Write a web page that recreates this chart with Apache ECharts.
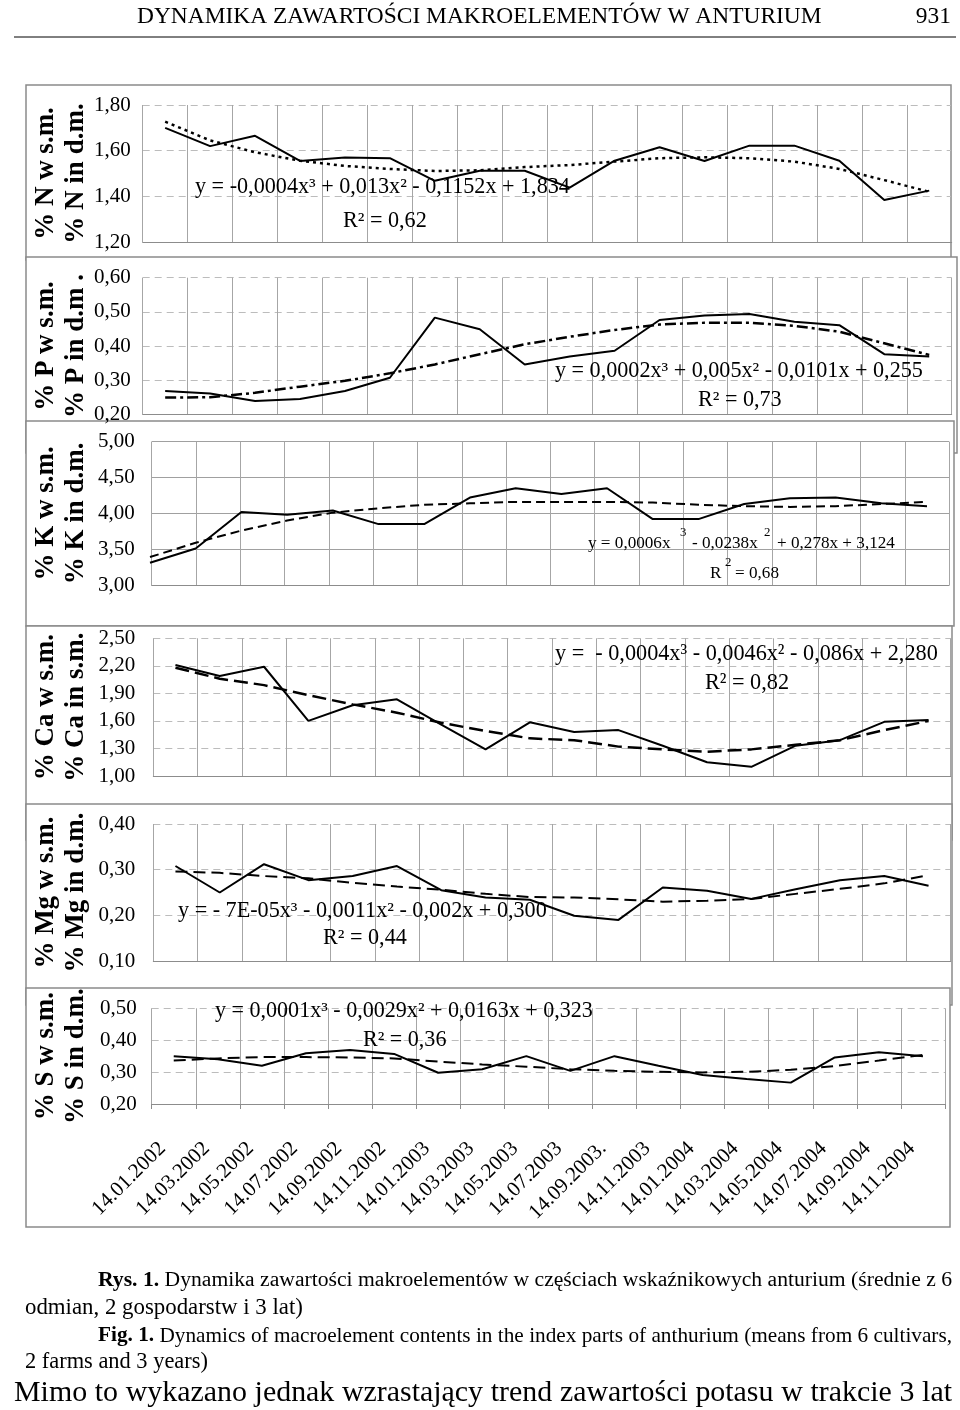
<!DOCTYPE html>
<html><head><meta charset="utf-8">
<script src="https://cdn.jsdelivr.net/npm/echarts@6/dist/echarts.min.js"></script>
<style>html,body{margin:0;padding:0;background:#fff}#c{width:960px;height:1410px}</style>
</head><body><div id="c"></div>
<script>
const categories = ['14.01.2002','14.03.2002','14.05.2002','14.07.2002','14.09.2002','14.11.2002',
  '14.01.2003','14.03.2003','14.05.2003','14.07.2003','14.09.2003.','14.11.2003',
  '14.01.2004','14.03.2004','14.05.2004','14.07.2004','14.09.2004','14.11.2004'];

const nValues = [1.70,1.62,1.665,1.555,1.57,1.567,1.468,1.512,1.512,1.438,1.556,1.615,1.555,1.622,1.622,1.556,1.384,1.425];
const nTrend  = [1.727,1.645,1.593,1.556,1.533,1.520,1.511,1.514,1.528,1.537,1.552,1.567,1.571,1.567,1.552,1.520,1.471,1.420];
const pValues = [0.268,0.261,0.239,0.245,0.268,0.307,0.483,0.449,0.346,0.369,0.386,0.476,0.489,0.494,0.471,0.461,0.376,0.369];
const pTrend  = [0.249,0.250,0.263,0.281,0.298,0.320,0.346,0.376,0.405,0.427,0.447,0.463,0.468,0.468,0.459,0.442,0.408,0.374];
const kValues = [3.31,3.51,4.02,3.98,4.04,3.85,3.85,4.22,4.35,4.27,4.35,3.92,3.92,4.13,4.21,4.22,4.14,4.10];
const kTrend  = [3.39,3.59,3.76,3.90,4.01,4.07,4.12,4.14,4.16,4.16,4.16,4.15,4.12,4.10,4.09,4.10,4.13,4.16];
const caValues = [2.21,2.09,2.19,1.60,1.77,1.835,1.56,1.29,1.585,1.48,1.50,1.33,1.15,1.10,1.33,1.39,1.59,1.61];
const caTrend  = [2.18,2.06,1.99,1.88,1.78,1.69,1.58,1.49,1.41,1.39,1.32,1.29,1.265,1.29,1.34,1.39,1.50,1.60];
const mgValues = [0.308,0.250,0.312,0.277,0.286,0.308,0.255,0.239,0.234,0.199,0.190,0.261,0.254,0.236,0.257,0.277,0.286,0.265];
const mgTrend  = [0.296,0.293,0.286,0.281,0.271,0.263,0.256,0.247,0.240,0.239,0.235,0.230,0.232,0.236,0.247,0.258,0.270,0.288];
const sValues = [0.350,0.340,0.320,0.359,0.369,0.357,0.298,0.309,0.350,0.304,0.350,0.320,0.291,0.278,0.267,0.346,0.362,0.350];
const sTrend  = [0.336,0.343,0.347,0.347,0.346,0.343,0.333,0.324,0.317,0.309,0.304,0.301,0.299,0.301,0.307,0.319,0.336,0.354];

// axis ranges: [min, max, interval]
const nAxis = [1.2, 1.8, 0.2];
const pAxis = [0.2, 0.6, 0.1];
const kAxis = [3.0, 5.0, 0.5];
const caAxis = [1.0, 2.5, 0.3];
const mgAxis = [0.1, 0.4, 0.1];
const sAxis = [0.2, 0.5, 0.1];

const titleText = 'DYNAMIKA ZAWARTOŚCI MAKROELEMENTÓW W ANTURIUM';
const pageNo = '931';
const caption1 = 'Rys. 1. Dynamika zawartości makroelementów w częściach wskaźnikowych anturium (średnie z 6';
const caption2 = 'odmian, 2 gospodarstw i 3 lat)';
const caption3 = 'Fig. 1. Dynamics of macroelement contents in the index parts of anthurium (means from 6 cultivars,';
const caption4 = '2 farms and 3 years)';
const bodyLine = 'Mimo to wykazano jednak wzrastający trend zawartości potasu w trakcie 3 lat';

const SERIF = '"Liberation Serif", "Times New Roman", serif';
const mctx = document.createElement('canvas').getContext('2d');
function tw(text, size, weight) { mctx.font = (weight || 'normal') + ' ' + size + 'px "Liberation Serif"'; return mctx.measureText(text).width; }
function fit(text, target, base, weight) { return base * target / tw(text, base, weight); }
function txt(text, x, y, size, opts) {
  opts = opts || {};
  return { type: 'text', x: x, y: y, z: 10, silent: true,
    style: { text: text, font: (opts.weight || 'normal') + ' ' + size + 'px ' + SERIF, fill: '#000',
      textAlign: opts.align || 'left', textVerticalAlign: 'middle', verticalAlign: 'middle' } };
}
function justify(line, x0, x1, y, size, boldCount) {
  const words = line.split(' ');
  const natural = words.reduce((s, w, i) => s + tw(w, size, i < boldCount ? 'bold' : 'normal'), 0) + tw(' ', size) * (words.length - 1);
  if (natural > x1 - x0) size = size * (x1 - x0) / natural;
  const widths = words.map((w, i) => tw(w, size, i < boldCount ? 'bold' : 'normal'));
  const total = widths.reduce((a, b) => a + b, 0);
  const gap = (x1 - x0 - total) / (words.length - 1);
  const out = []; let x = x0;
  words.forEach((w, i) => { out.push(txt(w, x, y, size, { weight: i < boldCount ? 'bold' : 'normal' })); x += widths[i] + gap; });
  return out;
}

const panels = [
  { name: '% N w s.m.\n% N in d.m.', vals: nValues, trend: nTrend, axis: nAxis, g: [142.7, 105, 809, 137], dashed: true, lm: 12, ng: 52, tt: [3, 4], tw: 2.5 },
  { name: '% P w s.m.\n% P in d.m .', vals: pValues, trend: pTrend, axis: pAxis, g: [142.7, 277.7, 809, 136.6], dashed: true, lm: 12, ng: 52, tt: [11, 4, 3, 4], tw: 2.5 },
  { name: '% K w s.m.\n% K in d.m.', vals: kValues, trend: kTrend, axis: kAxis, g: [151.7, 441.7, 797.4, 143.3], sg: [150, 441.7, 777, 143.3], dashed: false, lm: 17, ng: 61, tt: [9, 5], tw: 2 },
  { name: '% Ca w s.m.\n% Ca in s.m.', vals: caValues, trend: caTrend, axis: caAxis, g: [153.3, 638.3, 797.4, 137.7], dashed: true, lm: 18, ng: 62, tt: [14, 6], tw: 2.5 },
  { name: '% Mg w s.m.\n% Mg in d.m.', vals: mgValues, trend: mgTrend, axis: mgAxis, g: [153.3, 824, 797.4, 137], dashed: true, lm: 18, ng: 62, tt: [12, 6], tw: 2 },
  { name: '% S w s.m.\n% S in d.m.', vals: sValues, trend: sTrend, axis: sAxis, g: [151.7, 1008.3, 793.3, 95.7], dashed: true, lm: 15, ng: 61, tt: [12, 6], tw: 2, labels: true }
];

const grids = [], xAxes = [], yAxes = [], series = [];
panels.forEach(p => {
  const gi = grids.length;
  grids.push({ left: p.g[0], top: p.g[1], width: p.g[2], height: p.g[3], containLabel: false, outerBoundsMode: 'none' });
  xAxes.push({
    type: 'category', gridIndex: gi, data: categories, boundaryGap: true,
    axisLine: { show: true, lineStyle: { color: '#8c8c8c', width: 1 } },
    axisTick: { show: !!p.labels, length: 5, interval: 0, lineStyle: { color: '#8c8c8c' } },
    axisLabel: { show: !!p.labels, interval: 0, rotate: 45, margin: 30, padding: [0, 16, 0, 0], fontFamily: SERIF, fontSize: 21, color: '#000' },
    splitLine: { show: true, interval: 0, lineStyle: { color: '#a6a6a6', width: 1 } }
  });
  yAxes.push({
    type: 'value', gridIndex: gi, min: p.axis[0], max: p.axis[1], interval: p.axis[2],
    axisLine: { show: false }, axisTick: { show: false },
    axisLabel: { margin: p.lm, fontFamily: SERIF, fontSize: 21, color: '#000', formatter: v => v.toFixed(2).replace('.', ',') },
    splitLine: { show: true, lineStyle: p.dashed ? { color: '#bcbcbc', type: [7, 5], width: 1 } : { color: '#a0a0a0', width: 1 } },
    name: p.name, nameLocation: 'middle', nameRotate: 90, nameGap: p.ng, nameMoveOverlap: false,
    nameTextStyle: { fontFamily: SERIF, fontWeight: 'bold', fontSize: 27, lineHeight: 30, color: '#000' }
  });
  let sx = gi, sy = gi;
  if (p.sg) {
    const g2 = grids.length;
    grids.push({ left: p.sg[0], top: p.sg[1], width: p.sg[2], height: p.sg[3], containLabel: false, outerBoundsMode: 'none' });
    xAxes.push({ type: 'category', gridIndex: g2, data: categories, boundaryGap: false, show: false });
    yAxes.push({ type: 'value', gridIndex: g2, min: p.axis[0], max: p.axis[1], interval: p.axis[2], show: false, splitLine: { show: false } });
    sx = g2; sy = g2;
  }
  series.push({ type: 'line', xAxisIndex: sx, yAxisIndex: sy, data: p.trend, symbol: 'none', silent: true, z: 3,
    lineStyle: { color: '#000', width: p.tw, type: p.tt } });
  series.push({ type: 'line', xAxisIndex: sx, yAxisIndex: sy, data: p.vals, symbol: 'none', silent: true, z: 4,
    lineStyle: { color: '#000', width: 2 } });
});

const gfx = [];
// panel frames (drawn below the plots, later frames cover earlier ones)
const frames = [[26, 85, 925, 175], [26, 257, 931, 196], [26, 421, 928, 205], [26, 626, 926, 214], [26, 804, 926, 201], [26, 988, 924, 239]];
frames.forEach((f, i) => gfx.push({ type: 'rect', z: -10 + i, silent: true, shape: { x: f[0], y: f[1], width: f[2], height: f[3] },
  style: { fill: '#fff', stroke: '#8a8a8a', lineWidth: 1.5 } }));

// header
const tSize = fit(titleText, 685, 20);
gfx.push(txt(titleText, 137, 17, tSize));
gfx.push(txt(pageNo, 951, 17, tSize, { align: 'right' }));
gfx.push({ type: 'line', z: 10, silent: true, shape: { x1: 14, y1: 37, x2: 956, y2: 37 }, style: { stroke: '#000', lineWidth: 1 } });

// trend equations
const eqs = [
  { t: 'y = -0,0004x³ + 0,013x² - 0,1152x + 1,834', x0: 195, x1: 570, y: 187, r: 'R² = 0,62', rx: 343, ry: 221 },
  { t: 'y = 0,0002x³ + 0,005x² - 0,0101x + 0,255', x0: 555, x1: 923, y: 371, r: 'R² = 0,73', rx: 698, ry: 400 },
  { t: 'y =  - 0,0004x³ - 0,0046x² - 0,086x + 2,280', x0: 555, x1: 938, y: 654, r: 'R² = 0,82', rx: 705, ry: 683 },
  { t: 'y = - 7E-05x³ - 0,0011x² - 0,002x + 0,300', x0: 178, x1: 547, y: 911, r: 'R² = 0,44', rx: 323, ry: 938 },
  { t: 'y = 0,0001x³ - 0,0029x² + 0,0163x + 0,323', x0: 215, x1: 593, y: 1011, r: 'R² = 0,36', rx: 363, ry: 1040 }
];
eqs.forEach(e => {
  const s = fit(e.t, e.x1 - e.x0, 20);
  gfx.push(txt(e.t, e.x0, e.y, s));
  gfx.push(txt(e.r, e.rx, e.ry, s));
});
// K equation (floating exponents)
const ks = fit('+ 0,278x + 3,124', 118, 16);
gfx.push(txt('y = 0,0006x', 588, 543, ks));
gfx.push(txt('3', 680, 533, ks * 0.75));
gfx.push(txt('- 0,0238x', 692, 543, ks));
gfx.push(txt('2', 764, 533, ks * 0.75));
gfx.push(txt('+ 0,278x + 3,124', 777, 543, ks));
gfx.push(txt('R', 710, 573, ks));
gfx.push(txt('2', 725, 563, ks * 0.75));
gfx.push(txt('= 0,68', 735, 573, ks));

// captions
justify(caption1, 98, 952, 1280, 22, 2).forEach(e => gfx.push(e));
gfx.push(txt(caption2, 25, 1308, fit(caption2, 278, 22)));
justify(caption3, 98, 952, 1336, 22, 2).forEach(e => gfx.push(e));
gfx.push(txt(caption4, 25, 1362, fit(caption4, 183, 22)));
justify(bodyLine, 14, 952, 1393, fit(bodyLine, 936, 26), 0).forEach(e => gfx.push(e));

const chart = echarts.init(document.getElementById('c'), null, { renderer: 'canvas' });
chart.setOption({
  animation: false,
  backgroundColor: '#fff',
  grid: grids, xAxis: xAxes, yAxis: yAxes, series: series,
  graphic: { elements: gfx }
});
</script></body></html>
